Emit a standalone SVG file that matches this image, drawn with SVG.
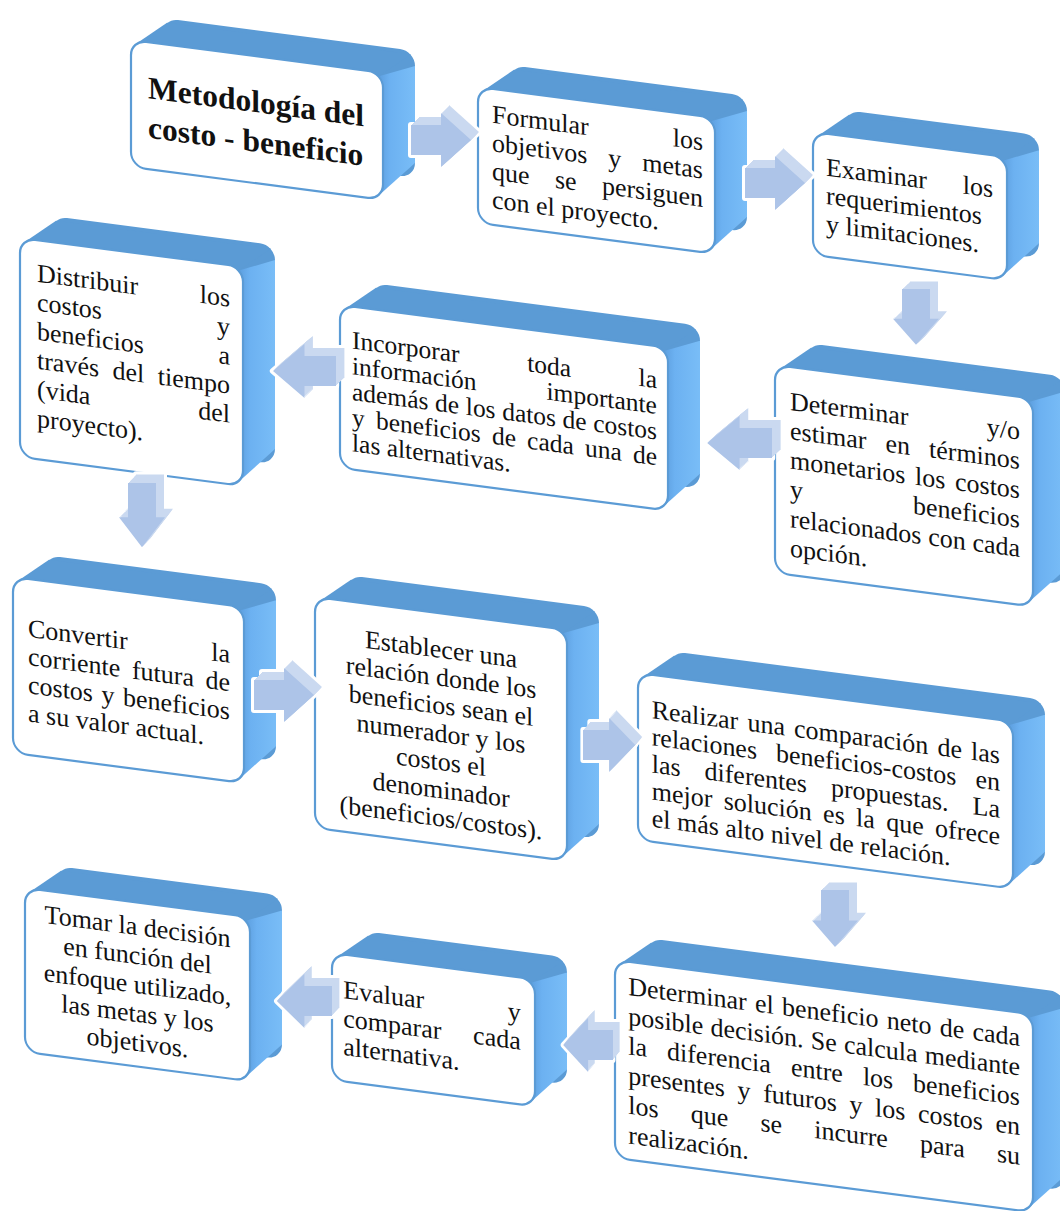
<svg xmlns="http://www.w3.org/2000/svg" width="1060" height="1211" viewBox="0 0 1060 1211">
<defs>
<linearGradient id="sideGrad" x1="0" y1="0" x2="1" y2="0">
<stop offset="0" stop-color="#5d9fdf"/>
<stop offset="0.3" stop-color="#6cb1f1"/>
<stop offset="1" stop-color="#79bdf7"/>
</linearGradient>
<style>
.bk{fill:#5b9bd5}
.tp{fill:#5b9bd5}
.rt{fill:url(#sideGrad)}
.fr{fill:#fff;stroke:#5b9bd5;stroke-width:2.2}
.t{font-family:"Liberation Serif","Times New Roman",serif;font-size:26px;fill:#111}
.ttl{font-family:"Liberation Serif","Times New Roman",serif;font-size:31.5px;font-weight:bold;fill:#111}
.c{text-anchor:middle}
.aw{fill:#fff;stroke:#fff;stroke-width:6;stroke-linejoin:round}
.ab{fill:#cad9f0}
.af{fill:#adc4e8}
</style>
<!-- block arrow shapes, tail at origin -->
<path id="arR" d="M0,-15 H30 V-27 L60,0 L30,27 V15 H0 Z"/>
<path id="arL" d="M0,-15 H-30 V-27 L-60,0 L-30,27 V15 H0 Z"/>
<path id="arD" d="M-14,0 V32 H-23 L0,60 L23,32 H14 V0 Z"/>
<!-- extruded arrows: pale back faces stepped up-right, white halo, front face -->
<g id="AR">
<use href="#arR" class="aw" x="8" y="-8"/><use href="#arR" class="aw"/>
<use href="#arR" class="ab" x="8" y="-8"/><use href="#arR" class="ab" x="7" y="-7"/><use href="#arR" class="ab" x="6" y="-6"/><use href="#arR" class="ab" x="5" y="-5"/>
<use href="#arR" class="ab" x="4" y="-4"/><use href="#arR" class="ab" x="3" y="-3"/><use href="#arR" class="ab" x="2" y="-2"/><use href="#arR" class="ab" x="1" y="-1"/>
<use href="#arR" class="af"/>
</g>
<g id="AL">
<use href="#arL" class="aw" x="8" y="-8"/><use href="#arL" class="aw"/>
<use href="#arL" class="ab" x="8" y="-8"/><use href="#arL" class="ab" x="7" y="-7"/><use href="#arL" class="ab" x="6" y="-6"/><use href="#arL" class="ab" x="5" y="-5"/>
<use href="#arL" class="ab" x="4" y="-4"/><use href="#arL" class="ab" x="3" y="-3"/><use href="#arL" class="ab" x="2" y="-2"/><use href="#arL" class="ab" x="1" y="-1"/>
<use href="#arL" class="af"/>
</g>
<g id="AD">
<use href="#arD" class="aw" x="8" y="-8"/><use href="#arD" class="aw"/>
<use href="#arD" class="ab" x="8" y="-8"/><use href="#arD" class="ab" x="7" y="-7"/><use href="#arD" class="ab" x="6" y="-6"/><use href="#arD" class="ab" x="5" y="-5"/>
<use href="#arD" class="ab" x="4" y="-4"/><use href="#arD" class="ab" x="3" y="-3"/><use href="#arD" class="ab" x="2" y="-2"/><use href="#arD" class="ab" x="1" y="-1"/>
<use href="#arD" class="af"/>
</g>
</defs>
<rect width="1060" height="1211" fill="#fff"/>

<g id="n1" transform="translate(131,40) skewY(7.4)">
<rect class="bk" x="32" y="-26" width="252" height="127" rx="15"/>
<polygon class="tp" points="4,4 36,-22 280,-22 248,4"/>
<polygon class="rt" points="248,4 284,-11 284,86 248,123"/>
<rect class="fr" width="252" height="127" rx="15"/>
<text class="ttl" x="17" y="56">Metodología del</text>
<text class="ttl" x="17" y="95.6">costo - beneficio</text>
</g>

<g id="n2" transform="translate(478,87) skewY(7.4)">
<rect class="bk" x="32" y="-26" width="237" height="136" rx="15"/>
<polygon class="tp" points="4,4 36,-22 265,-22 233,4"/>
<polygon class="rt" points="233,4 269,-11 269,95 233,132"/>
<rect class="fr" width="237" height="136" rx="15"/>
<text class="t" y="34"><tspan x="14">Formular</tspan><tspan x="194.7">los</tspan></text>
<text class="t" y="62.4"><tspan x="14">objetivos</tspan><tspan x="130.3">y</tspan><tspan x="164.3">metas</tspan></text>
<text class="t" y="90.8"><tspan x="14">que</tspan><tspan x="76.9">se</tspan><tspan x="123.9">persiguen</tspan></text>
<text class="t" x="14" y="119.2">con el proyecto.</text>
</g>

<g id="n3" transform="translate(813,132) skewY(7.4)">
<rect class="bk" x="32" y="-26" width="194" height="123" rx="15"/>
<polygon class="tp" points="4,4 36,-22 222,-22 190,4"/>
<polygon class="rt" points="190,4 226,-11 226,82 190,119"/>
<rect class="fr" width="194" height="123" rx="15"/>
<text class="t" y="42"><tspan x="13">Examinar</tspan><tspan x="149.7">los</tspan></text>
<text class="t" x="13" y="70.4">requerimientos</text>
<text class="t" x="13" y="98.8">y limitaciones.</text>
</g>

<g id="n4" transform="translate(340,305) skewY(7.4)">
<rect class="bk" x="32" y="-26" width="328" height="163" rx="15"/>
<polygon class="tp" points="4,4 36,-22 356,-22 324,4"/>
<polygon class="rt" points="324,4 360,-11 360,122 324,159"/>
<rect class="fr" width="328" height="163" rx="15"/>
<text class="t" style="font-size:25.5px" y="42"><tspan x="12">Incorporar</tspan><tspan x="187.2">toda</tspan><tspan x="298.6">la</tspan></text>
<text class="t" style="font-size:25.5px" y="67.7"><tspan x="12">información</tspan><tspan x="206.5">importante</tspan></text>
<text class="t" style="font-size:25.5px" y="93.4"><tspan x="12">además</tspan><tspan x="95.1">de</tspan><tspan x="125.8">los</tspan><tspan x="162.2">datos</tspan><tspan x="222.6">de</tspan><tspan x="253.3">costos</tspan></text>
<text class="t" style="font-size:25.5px" y="119.1"><tspan x="12">y</tspan><tspan x="35.9">beneficios</tspan><tspan x="151.9">de</tspan><tspan x="187.1">cada</tspan><tspan x="245">una</tspan><tspan x="292.9">de</tspan></text>
<text class="t" style="font-size:25.5px" x="12" y="144.8">las alternativas.</text>
</g>

<g id="n5" transform="translate(20,238) skewY(7.4)">
<rect class="bk" x="32" y="-26" width="223" height="219" rx="15"/>
<polygon class="tp" points="4,4 36,-22 251,-22 219,4"/>
<polygon class="rt" points="219,4 255,-11 255,178 219,215"/>
<rect class="fr" width="223" height="219" rx="15"/>
<text class="t" y="41.5"><tspan x="17">Distribuir</tspan><tspan x="179.7">los</tspan></text>
<text class="t" y="70.5"><tspan x="17">costos</tspan><tspan x="197">y</tspan></text>
<text class="t" y="99.5"><tspan x="17">beneficios</tspan><tspan x="198.5">a</tspan></text>
<text class="t" y="128.5"><tspan x="17">través</tspan><tspan x="92.5">del</tspan><tspan x="137.8">tiempo</tspan></text>
<text class="t" y="157.5"><tspan x="17">(vida</tspan><tspan x="178.2">del</tspan></text>
<text class="t" x="17" y="186.5">proyecto).</text>
</g>

<g id="n6" transform="translate(775,365) skewY(7.4)">
<rect class="bk" x="32" y="-26" width="258" height="208" rx="15"/>
<polygon class="tp" points="4,4 36,-22 286,-22 254,4"/>
<polygon class="rt" points="254,4 290,-11 290,167 254,204"/>
<rect class="fr" width="258" height="208" rx="15"/>
<text class="t" y="43"><tspan x="15">Determinar</tspan><tspan x="211.8">y/o</tspan></text>
<text class="t" y="72.3"><tspan x="15">estimar</tspan><tspan x="110.5">en</tspan><tspan x="154">términos</tspan></text>
<text class="t" y="101.6"><tspan x="15">monetarios</tspan><tspan x="140.1">los</tspan><tspan x="180">costos</tspan></text>
<text class="t" y="130.9"><tspan x="15">y</tspan><tspan x="138.1">beneficios</tspan></text>
<text class="t" y="160.2"><tspan x="15">relacionados</tspan><tspan x="153.2">con</tspan><tspan x="197.4">cada</tspan></text>
<text class="t" x="15" y="189.5">opción.</text>
</g>

<g id="n7" transform="translate(13,577) skewY(7.4)">
<rect class="bk" x="32" y="-26" width="231" height="176" rx="15"/>
<polygon class="tp" points="4,4 36,-22 259,-22 227,4"/>
<polygon class="rt" points="227,4 263,-11 263,135 227,172"/>
<rect class="fr" width="231" height="176" rx="15"/>
<text class="t" y="57.7"><tspan x="15">Convertir</tspan><tspan x="198.2">la</tspan></text>
<text class="t" y="86"><tspan x="15">corriente</tspan><tspan x="118.9">futura</tspan><tspan x="192.5">de</tspan></text>
<text class="t" y="114.3"><tspan x="15">costos</tspan><tspan x="88.6">y</tspan><tspan x="110.1">beneficios</tspan></text>
<text class="t" x="15" y="142.6">a su valor actual.</text>
</g>

<g id="n8" transform="translate(315,597) skewY(7.4)">
<rect class="bk" x="32" y="-26" width="252" height="231" rx="15"/>
<polygon class="tp" points="4,4 36,-22 280,-22 248,4"/>
<polygon class="rt" points="248,4 284,-11 284,190 248,227"/>
<rect class="fr" width="252" height="231" rx="15"/>
<text class="t c" x="126" y="44.5">Establecer una</text>
<text class="t c" x="126" y="72.6">relación donde los</text>
<text class="t c" x="126" y="100.7">beneficios sean el</text>
<text class="t c" x="126" y="128.8">numerador y los</text>
<text class="t c" x="126" y="156.9">costos el</text>
<text class="t c" x="126" y="185">denominador</text>
<text class="t c" x="126" y="213.1">(beneficios/costos).</text>
</g>

<g id="n9" transform="translate(638,673) skewY(7.4)">
<rect class="bk" x="32" y="-26" width="375" height="167" rx="15"/>
<polygon class="tp" points="4,4 36,-22 403,-22 371,4"/>
<polygon class="rt" points="371,4 407,-11 407,126 371,163"/>
<rect class="fr" width="375" height="167" rx="15"/>
<text class="t" y="43.5"><tspan x="13.7">Realizar</tspan><tspan x="109.4">una</tspan><tspan x="156">comparación</tspan><tspan x="299.4">de</tspan><tspan x="333.1">las</tspan></text>
<text class="t" y="70.6"><tspan x="13.7">relaciones</tspan><tspan x="138">beneficios-costos</tspan><tspan x="337.5">en</tspan></text>
<text class="t" y="97.7"><tspan x="13.7">las</tspan><tspan x="66.5">diferentes</tspan><tspan x="192.9">propuestas.</tspan><tspan x="334.6">La</tspan></text>
<text class="t" y="124.8"><tspan x="13.7">mejor</tspan><tspan x="85.7">solución</tspan><tspan x="185.1">es</tspan><tspan x="218.1">la</tspan><tspan x="248.2">que</tspan><tspan x="297.1">ofrece</tspan></text>
<text class="t" x="13.7" y="151.9">el más alto nivel de relación.</text>
</g>

<g id="n10" transform="translate(25,888) skewY(7.4)">
<rect class="bk" x="32" y="-26" width="225" height="164" rx="15"/>
<polygon class="tp" points="4,4 36,-22 253,-22 221,4"/>
<polygon class="rt" points="221,4 257,-11 257,123 221,160"/>
<rect class="fr" width="225" height="164" rx="15"/>
<text class="t c" x="112.5" y="32.5">Tomar la decisión</text>
<text class="t c" x="112.5" y="61.5">en función del</text>
<text class="t c" x="112.5" y="90.5">enfoque utilizado,</text>
<text class="t c" x="112.5" y="119.5">las metas y los</text>
<text class="t c" x="112.5" y="148.5">objetivos.</text>
</g>

<g id="n11" transform="translate(332,953) skewY(7.4)">
<rect class="bk" x="32" y="-26" width="203" height="127" rx="15"/>
<polygon class="tp" points="4,4 36,-22 231,-22 199,4"/>
<polygon class="rt" points="199,4 235,-11 235,86 199,123"/>
<rect class="fr" width="203" height="127" rx="15"/>
<text class="t" y="43.8"><tspan x="11.3">Evaluar</tspan><tspan x="175.7">y</tspan></text>
<text class="t" y="72.2"><tspan x="11.3">comparar</tspan><tspan x="141.1">cada</tspan></text>
<text class="t" x="11.3" y="100.6">alternativa.</text>
</g>

<g id="n12" transform="translate(615,960) skewY(7.4)">
<rect class="bk" x="32" y="-26" width="418" height="198" rx="15"/>
<polygon class="tp" points="4,4 36,-22 446,-22 414,4"/>
<polygon class="rt" points="414,4 450,-11 450,157 414,194"/>
<rect class="fr" width="418" height="198" rx="15"/>
<text class="t" y="33.3"><tspan x="13.3">Determinar</tspan><tspan x="139.9">el</tspan><tspan x="166.9">beneficio</tspan><tspan x="271.8">neto</tspan><tspan x="324.8">de</tspan><tspan x="357.4">cada</tspan></text>
<text class="t" y="63"><tspan x="13.3">posible</tspan><tspan x="95.5">decisión.</tspan><tspan x="195.8">Se</tspan><tspan x="228.9">calcula</tspan><tspan x="309.7">mediante</tspan></text>
<text class="t" y="92.7"><tspan x="13.3">la</tspan><tspan x="52">diferencia</tspan><tspan x="175.9">entre</tspan><tspan x="247.9">los</tspan><tspan x="298.1">beneficios</tspan></text>
<text class="t" y="122.4"><tspan x="13.3">presentes</tspan><tspan x="122.6">y</tspan><tspan x="148.2">futuros</tspan><tspan x="234.5">y</tspan><tspan x="260.1">los</tspan><tspan x="303">costos</tspan><tspan x="380.5">en</tspan></text>
<text class="t" y="152.1"><tspan x="13.3">los</tspan><tspan x="75.8">que</tspan><tspan x="145.5">se</tspan><tspan x="199.3">incurre</tspan><tspan x="305.1">para</tspan><tspan x="381.9">su</tspan></text>
<text class="t" x="13.3" y="181.8">realización.</text>
</g>

<g id="connectors">
<use href="#AR" transform="translate(411,140)"/>
<use href="#AR" transform="translate(745,183)"/>
<use href="#AD" transform="translate(916,289) scale(1,0.93)"/>
<use href="#AL" transform="translate(772,443) scale(1.08,1)"/>
<use href="#AL" transform="translate(336,371) scale(1.05,1)"/>
<use href="#AD" transform="translate(142,483) scale(1,1.07)"/>
<use href="#AR" transform="translate(254,695)"/>
<use href="#AR" transform="translate(583,745) scale(0.87,1)"/>
<use href="#AD" transform="translate(835,890) scale(1,0.95)"/>
<use href="#AL" transform="translate(613,1045) scale(0.83,1)"/>
<use href="#AL" transform="translate(332,1001) scale(0.92,1)"/>
</g>
</svg>
